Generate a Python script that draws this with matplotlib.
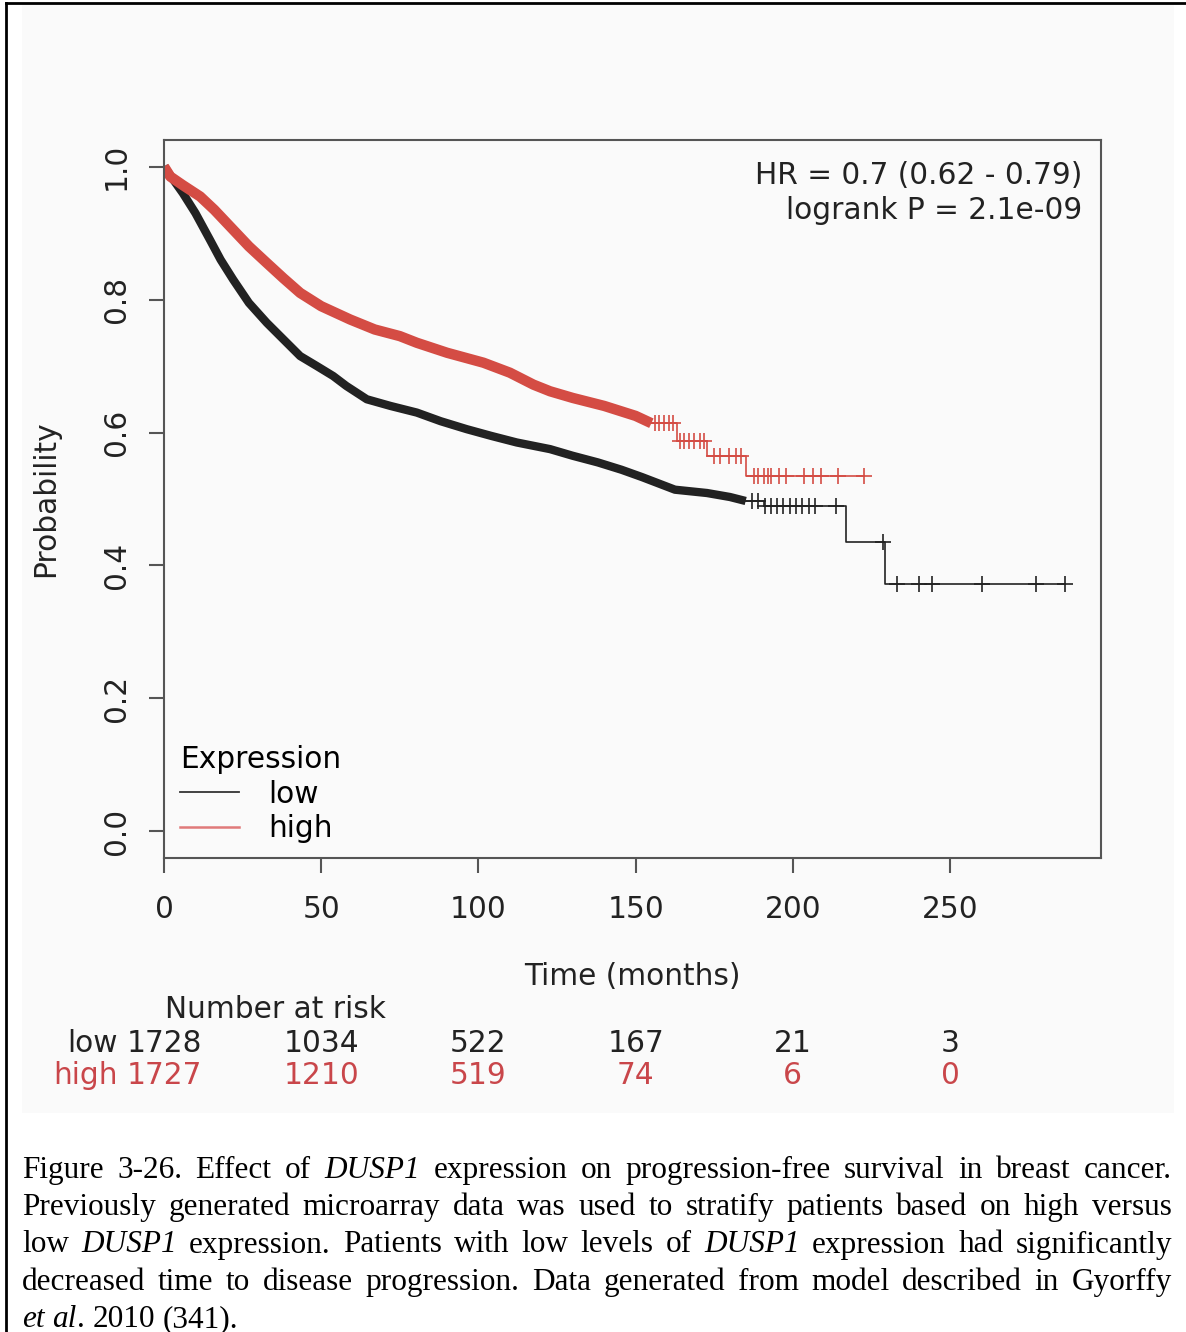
import numpy as np
import matplotlib
matplotlib.use('Agg')
import matplotlib.pyplot as plt
from matplotlib.lines import Line2D
from matplotlib.patches import Rectangle

W, H = 1186, 1332

# Kaplan-Meier curves (time in months, survival prob)
low_t = [0, 3, 6, 10, 14.6, 18, 22, 27, 32.7, 38, 43.3, 48.6, 53.8, 58, 64.5, 72, 80.4,
         88, 96.3, 104, 112.2, 122.8, 130, 138, 145.5, 152, 162.5, 172.7, 180, 185,
         190.8, 216.9, 229.3, 286.6]
low_s = [1.0, 0.98, 0.96, 0.93, 0.89, 0.86, 0.83, 0.795, 0.765, 0.74, 0.715, 0.70, 0.685,
         0.67, 0.65, 0.64, 0.63, 0.617, 0.605, 0.595, 0.585, 0.575, 0.565, 0.555, 0.544,
         0.533, 0.514, 0.509, 0.503, 0.497, 0.489, 0.435, 0.372, 0.372]
high_t = [0, 2, 6, 11.5, 16, 22, 27, 32.7, 38, 43.3, 50, 59.2, 67, 75, 80.4, 90, 101.6,
          110, 117.5, 122.8, 130, 140, 150, 155, 163.1, 172.7, 185, 222.7]
high_s = [1.0, 0.985, 0.972, 0.955, 0.935, 0.905, 0.88, 0.855, 0.832, 0.81, 0.79, 0.77,
          0.755, 0.745, 0.735, 0.72, 0.705, 0.69, 0.672, 0.662, 0.652, 0.64, 0.625, 0.614,
          0.587, 0.564, 0.534, 0.534]

# censored marks in the sparse tail (the early part is a solid band of marks)
low_band_end = 185
high_band_end = 155
low_cens = [187, 189, 191, 193, 195, 197, 199, 201, 203, 205, 207, 213.6, 228.8, 233,
            240, 244.2, 260, 277.2, 286.6]
high_cens = [156, 157.5, 159, 160.5, 162, 164, 165.5, 167, 168.5, 170.5, 171.8, 175, 176.7,
             179.6, 181.9, 183.6, 187.5, 189, 190.9, 192, 193.2, 195.5, 197.7, 203.4, 206.3,
             209.1, 214.2, 222.7]

# number at risk
risk_times = [0, 50, 100, 150, 200, 250]
risk_low = [1728, 1034, 522, 167, 21, 3]
risk_high = [1727, 1210, 519, 74, 6, 0]

caption = [
    "Figure 3-26. Effect of *DUSP1* expression on progression-free survival in breast cancer.",
    "Previously generated microarray data was used to stratify patients based on high versus",
    "low *DUSP1* expression. Patients with low levels of *DUSP1* expression had significantly",
    "decreased time to disease progression. Data generated from model described in Gyorffy",
    "*et al*. 2010 (341).",
]

black = '#222222'
red = '#d44c44'
red_txt = '#c9464a'
txt = '#222222'
bg = '#fafafa'
fs = 21.3


def fx(px):
    return px / W


def fy(py):
    return 1 - py / H


def step_at(t, s, x):
    i = np.searchsorted(t, x, side='right') - 1
    return np.array(s)[i]


fig = plt.figure(figsize=(W / 100, H / 100), dpi=100)
fig.patches.append(Rectangle((fx(22), fy(1113)), fx(1174) - fx(22), fy(4) - fy(1113),
                             transform=fig.transFigure, facecolor=bg, edgecolor='none', zorder=-10))
fig.add_artist(Line2D([fx(6), fx(6)], [fy(3), 0], color='black', lw=2))
fig.add_artist(Line2D([fx(6), 1], [fy(3), fy(3)], color='black', lw=2))

ax = fig.add_axes([fx(164), fy(858), fx(1101) - fx(164), fy(140) - fy(858)])
ax.set_facecolor(bg)

for t, s, band_end, cens, c, bw in [(low_t, low_s, low_band_end, low_cens, black, 6),
                                     (high_t, high_s, high_band_end, high_cens, red, 7.5)]:
    t = np.array(t)
    s = np.array(s)
    k = np.searchsorted(t, band_end, side='right')
    # dense part: solid band of censor marks
    ax.plot(t[:k], s[:k], color=c, lw=bw, solid_capstyle='butt')
    # sparse tail: step line with single marks
    ax.plot(t[k - 1:], s[k - 1:], drawstyle='steps-post', color=c, lw=1.2)
    ax.plot(cens, step_at(t, s, cens), ls='none', marker='+', ms=11, mew=1.2, color=c)

ax.set_xlim(0, 298)
ax.set_ylim(-0.04, 1.04)
ax.set_xticks(risk_times)
ax.set_yticks([0, 0.2, 0.4, 0.6, 0.8, 1.0])
ax.set_yticklabels(['0.0', '0.2', '0.4', '0.6', '0.8', '1.0'], rotation=90, va='center')
for sp in ax.spines.values():
    sp.set_color('#555555')
    sp.set_linewidth(1.5)
ax.tick_params(length=11, width=1.5, color='#555555', labelsize=fs, labelcolor=txt, pad=13)
ax.tick_params(axis='x', pad=16)
ax.set_xlabel('Time (months)', fontsize=fs, color=txt, labelpad=27)
ax.set_ylabel('Probability', fontsize=fs, color=txt, labelpad=30)

ax.text(0.98, 0.951, 'HR = 0.7 (0.62 - 0.79)', transform=ax.transAxes, ha='right', va='center',
        fontsize=fs, color=txt)
ax.text(0.98, 0.902, 'logrank P = 2.1e-09', transform=ax.transAxes, ha='right', va='center',
        fontsize=fs, color=txt)

handles = [Line2D([], [], color='#333333', lw=1.3), Line2D([], [], color='#e07a7a', lw=1.8)]
ax.legend(handles, ['low', 'high'], title='Expression', loc='lower left', bbox_to_anchor=(-0.002, -0.004),
          frameon=False, fontsize=fs, title_fontsize=fs, handlelength=2.0, handletextpad=1.0,
          labelspacing=0.18, borderaxespad=0.2, alignment='left')

# number at risk table
fig.text(fx(275), fy(1010), 'Number at risk', ha='center', va='center', fontsize=fs, color=txt)
for lab, vals, c, ypx in [('low', risk_low, txt, 1043), ('high', risk_high, red_txt, 1076)]:
    fig.text(fx(118), fy(ypx), lab, ha='right', va='center', fontsize=fs, color=c)
    for tm, v in zip(risk_times, vals):
        xp = ax.transData.transform((tm, 0))[0] / fig.dpi / fig.get_figwidth()
        fig.text(xp, fy(ypx), str(v), ha='center', va='center', fontsize=fs, color=c)

# justified caption, '*' toggles italics
renderer = fig.canvas.get_renderer()
left, right = 22, 1172
cap_fs = 22.5
for k, line in enumerate(caption):
    y = fy(1178 + k * 37.25)
    italic = False
    words = []
    for tok in line.split(' '):
        pieces = []
        for j, p in enumerate(tok.split('*')):
            if j > 0:
                italic = not italic
            if p:
                tx = fig.text(0, y, p, fontsize=cap_fs, family='Liberation Serif',
                              style='italic' if italic else 'normal', va='baseline', color='black')
                pieces.append((tx, tx.get_window_extent(renderer).width))
        words.append(pieces)
    widths = [sum(w for _, w in p) for p in words]
    if k < len(caption) - 1:
        gap = (right - left - sum(widths)) / (len(words) - 1)
    else:
        gap = 0.25 * cap_fs * 100 / 72
    x = left
    for pieces, wd in zip(words, widths):
        xx = x
        for tx, w in pieces:
            tx.set_x(fx(xx))
            xx += w
        x += wd + gap

fig.savefig('out.png', dpi=100)
